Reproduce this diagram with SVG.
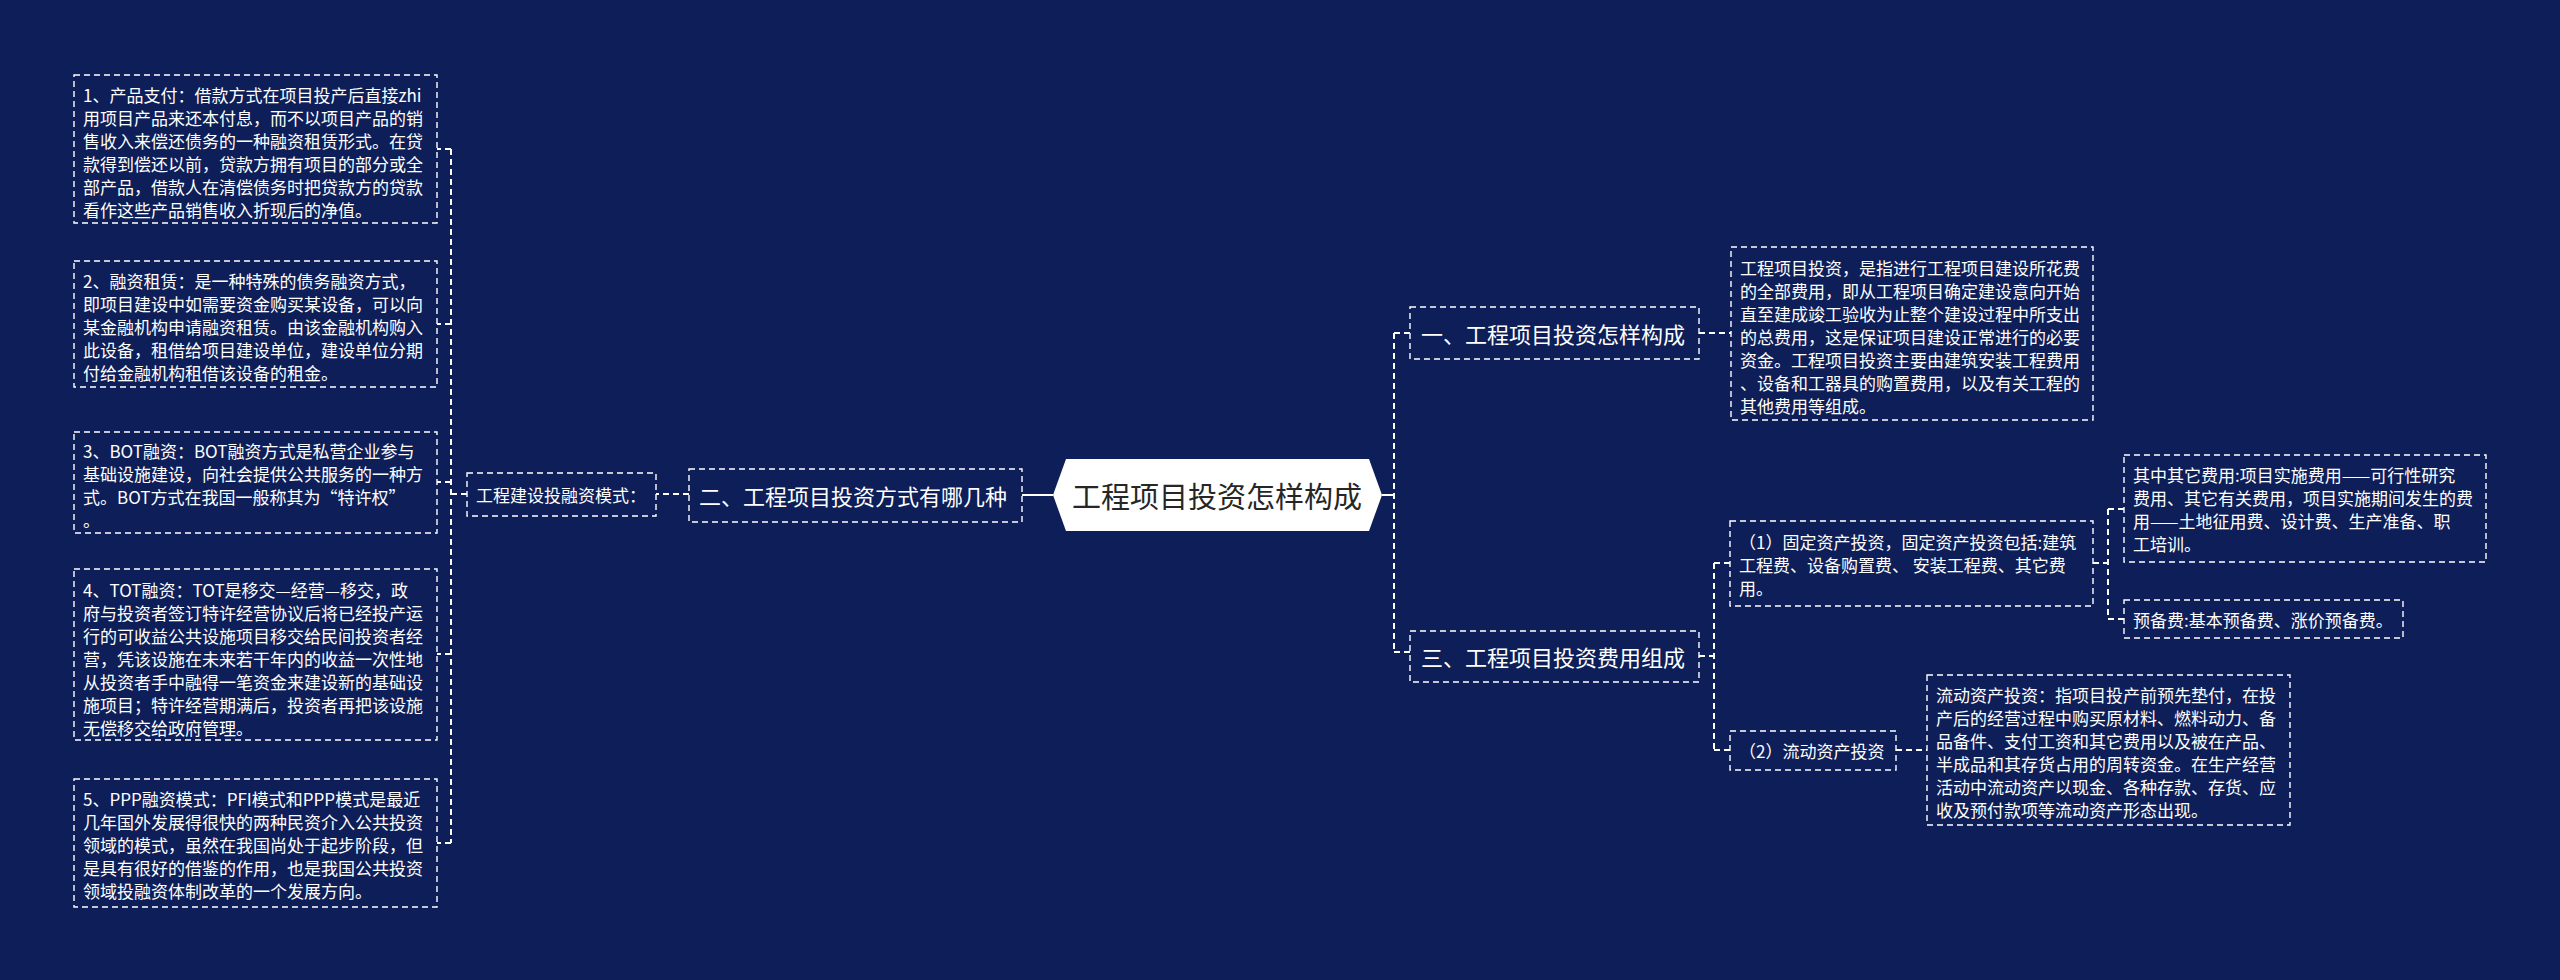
<svg xmlns="http://www.w3.org/2000/svg" width="2560" height="980" viewBox="0 0 2560 980">
<style>
.bg{fill:#0d1e58}
.box{fill:none;stroke:#ffffff;stroke-width:1.4;stroke-dasharray:6 4}
.conn{fill:none;stroke:#ffffff;stroke-width:2;stroke-dasharray:6 4}
.solid{fill:none;stroke:#ffffff;stroke-width:2}
.t{font-family:"Noto Sans CJK SC","Noto Sans",sans-serif;font-size:17px;fill:#ffffff;dominant-baseline:central}
.t22{font-family:"Noto Sans CJK SC","Noto Sans",sans-serif;font-size:22px;fill:#ffffff;dominant-baseline:central}
.root{font-family:"Noto Sans CJK SC","Noto Sans",sans-serif;font-size:29px;fill:#262626;dominant-baseline:central;text-anchor:middle}
</style>
<rect class="bg" x="0" y="0" width="2560" height="980"/>

<g id="connectors">
  <path class="conn" d="M451 149V843"/>
  <path class="conn" d="M467 494H451M451 149H437M451 324H437M451 482H437M451 654H437M451 843H437"/>
  <path class="conn" d="M689 494H656"/>
  <path class="solid" d="M1022 495H1053"/>
  <path class="solid" d="M1382 495H1394"/>
  <path class="conn" d="M1394 333V652"/>
  <path class="conn" d="M1394 333H1410M1394 652H1410"/>
  <path class="conn" d="M1699 333H1731"/>
  <path class="conn" d="M1714 563V750"/>
  <path class="conn" d="M1699 656H1714M1714 563H1730M1714 750H1730"/>
  <path class="conn" d="M2108 509V619"/>
  <path class="conn" d="M2093 563H2108M2108 509H2124M2108 619H2124"/>
  <path class="conn" d="M1896 750H1927"/>
</g>

<g id="root">
  <polygon points="1053,495 1066,459 1369,459 1382,495 1369,531 1066,531" fill="#ffffff"/>
  <text class="root" x="1217" y="495">工程项目投资怎样构成</text>
</g>

<g id="n-method">
  <rect class="box" x="689" y="469" width="333" height="53"/>
  <text class="t22" x="699" y="495">二、工程项目投资方式有哪几种</text>
</g>

<g id="n-mode">
  <rect class="box" x="467" y="473" width="189" height="43"/>
  <text class="t" x="476" y="494">工程建设投融资模式：</text>
</g>

<g id="n-l1">
  <rect class="box" x="74" y="75" width="363" height="148"/>
  <text class="t" x="83" y="94">1、产品支付：借款方式在项目投产后直接zhi</text>
  <text class="t" x="83" y="117">用项目产品来还本付息，而不以项目产品的销</text>
  <text class="t" x="83" y="140">售收入来偿还债务的一种融资租赁形式。在贷</text>
  <text class="t" x="83" y="163">款得到偿还以前，贷款方拥有项目的部分或全</text>
  <text class="t" x="83" y="186">部产品，借款人在清偿债务时把贷款方的贷款</text>
  <text class="t" x="83" y="209">看作这些产品销售收入折现后的净值。</text>
</g>

<g id="n-l2">
  <rect class="box" x="74" y="261" width="363" height="126"/>
  <text class="t" x="83" y="280">2、融资租赁：是一种特殊的债务融资方式，</text>
  <text class="t" x="83" y="303">即项目建设中如需要资金购买某设备，可以向</text>
  <text class="t" x="83" y="326">某金融机构申请融资租赁。由该金融机构购入</text>
  <text class="t" x="83" y="349">此设备，租借给项目建设单位，建设单位分期</text>
  <text class="t" x="83" y="372">付给金融机构租借该设备的租金。</text>
</g>

<g id="n-l3">
  <rect class="box" x="74" y="432" width="363" height="101"/>
  <text class="t" x="83" y="450">3、BOT融资：BOT融资方式是私营企业参与</text>
  <text class="t" x="83" y="473">基础设施建设，向社会提供公共服务的一种方</text>
  <text class="t" x="83" y="496">式。BOT方式在我国一般称其为“特许权”</text>
  <text class="t" x="83" y="519">。</text>
</g>

<g id="n-l4">
  <rect class="box" x="74" y="569" width="363" height="171"/>
  <text class="t" x="83" y="589">4、TOT融资：TOT是移交—经营—移交，政</text>
  <text class="t" x="83" y="612">府与投资者签订特许经营协议后将已经投产运</text>
  <text class="t" x="83" y="635">行的可收益公共设施项目移交给民间投资者经</text>
  <text class="t" x="83" y="658">营，凭该设施在未来若干年内的收益一次性地</text>
  <text class="t" x="83" y="681">从投资者手中融得一笔资金来建设新的基础设</text>
  <text class="t" x="83" y="704">施项目；特许经营期满后，投资者再把该设施</text>
  <text class="t" x="83" y="727">无偿移交给政府管理。</text>
</g>

<g id="n-l5">
  <rect class="box" x="74" y="779" width="363" height="128"/>
  <text class="t" x="83" y="798">5、PPP融资模式：PFI模式和PPP模式是最近</text>
  <text class="t" x="83" y="821">几年国外发展得很快的两种民资介入公共投资</text>
  <text class="t" x="83" y="844">领域的模式，虽然在我国尚处于起步阶段，但</text>
  <text class="t" x="83" y="867">是具有很好的借鉴的作用，也是我国公共投资</text>
  <text class="t" x="83" y="890">领域投融资体制改革的一个发展方向。</text>
</g>

<g id="n-one">
  <rect class="box" x="1410" y="307" width="289" height="52"/>
  <text class="t22" x="1421" y="333">一、工程项目投资怎样构成</text>
</g>

<g id="n-one-detail">
  <rect class="box" x="1731" y="247" width="362" height="173"/>
  <text class="t" x="1740" y="267">工程项目投资，是指进行工程项目建设所花费</text>
  <text class="t" x="1740" y="290">的全部费用，即从工程项目确定建设意向开始</text>
  <text class="t" x="1740" y="313">直至建成竣工验收为止整个建设过程中所支出</text>
  <text class="t" x="1740" y="336">的总费用，这是保证项目建设正常进行的必要</text>
  <text class="t" x="1740" y="359">资金。工程项目投资主要由建筑安装工程费用</text>
  <text class="t" x="1740" y="382">、设备和工器具的购置费用，以及有关工程的</text>
  <text class="t" x="1740" y="405">其他费用等组成。</text>
</g>

<g id="n-three">
  <rect class="box" x="1410" y="631" width="289" height="51"/>
  <text class="t22" x="1421" y="656">三、工程项目投资费用组成</text>
</g>

<g id="n-fixed">
  <rect class="box" x="1730" y="521" width="363" height="85"/>
  <text class="t" x="1739" y="541">（1）固定资产投资，固定资产投资包括:建筑</text>
  <text class="t" x="1739" y="564">工程费、设备购置费、 安装工程费、其它费</text>
  <text class="t" x="1739" y="587">用。</text>
</g>

<g id="n-other">
  <rect class="box" x="2124" y="455" width="362" height="107"/>
  <text class="t" x="2133" y="474">其中其它费用:项目实施费用——可行性研究</text>
  <text class="t" x="2133" y="497">费用、其它有关费用，项目实施期间发生的费</text>
  <text class="t" x="2133" y="520">用——土地征用费、设计费、生产准备、职</text>
  <text class="t" x="2133" y="543">工培训。</text>
</g>

<g id="n-reserve">
  <rect class="box" x="2124" y="600" width="279" height="38"/>
  <text class="t" x="2133" y="619">预备费:基本预备费、涨价预备费。</text>
</g>

<g id="n-current">
  <rect class="box" x="1730" y="731" width="166" height="39"/>
  <text class="t" x="1739" y="750">（2）流动资产投资</text>
</g>

<g id="n-current-detail">
  <rect class="box" x="1927" y="675" width="363" height="150"/>
  <text class="t" x="1936" y="694">流动资产投资：指项目投产前预先垫付，在投</text>
  <text class="t" x="1936" y="717">产后的经营过程中购买原材料、燃料动力、备</text>
  <text class="t" x="1936" y="740">品备件、支付工资和其它费用以及被在产品、</text>
  <text class="t" x="1936" y="763">半成品和其存货占用的周转资金。在生产经营</text>
  <text class="t" x="1936" y="786">活动中流动资产以现金、各种存款、存货、应</text>
  <text class="t" x="1936" y="809">收及预付款项等流动资产形态出现。</text>
</g>
</svg>
